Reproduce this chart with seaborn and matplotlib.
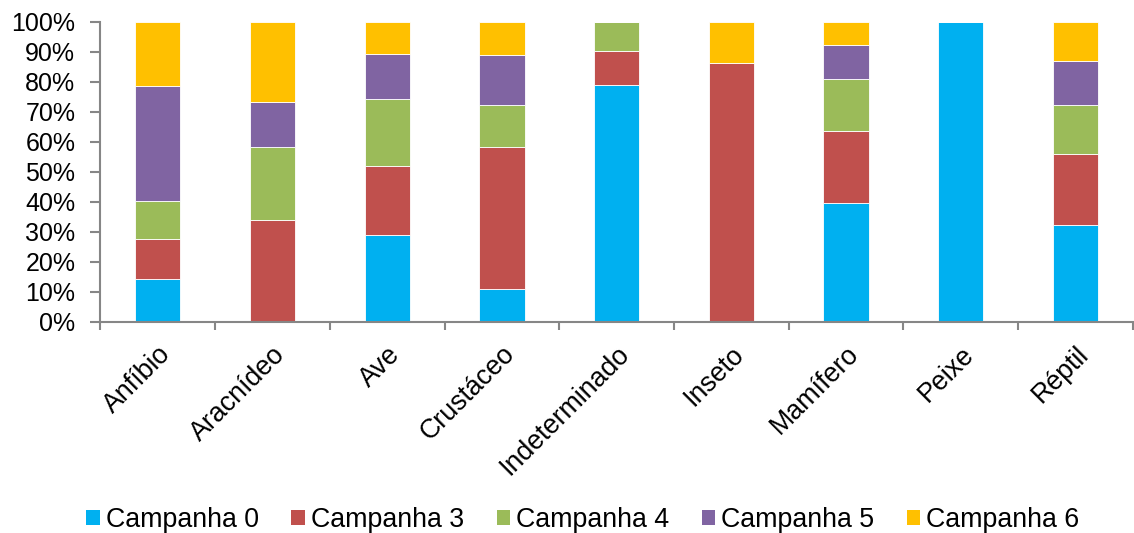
import numpy as np
import pandas as pd
import matplotlib
matplotlib.use("Agg")
import matplotlib.pyplot as plt
from matplotlib.patches import Patch
import seaborn as sns

# Share (%) of each campaign within every group
grupos = ["Anfíbio", "Aracnídeo", "Ave", "Crustáceo", "Indeterminado",
          "Inseto", "Mamífero", "Peixe", "Réptil"]
campanha_0 = [14.2, 0.0, 28.8, 10.8, 78.8, 0.0, 39.7, 100.0, 32.1]
campanha_3 = [13.5, 34.0, 23.2, 47.4, 11.5, 86.3, 24.0, 0.0, 23.9]
campanha_4 = [12.5, 24.3, 22.1, 13.9, 9.7, 0.0, 17.3, 0.0, 16.3]
campanha_5 = [38.4, 14.8, 15.2, 16.8, 0.0, 0.0, 11.3, 0.0, 14.6]
campanha_6 = [21.4, 26.9, 10.7, 11.1, 0.0, 13.7, 7.7, 0.0, 13.1]

series_names = ["Campanha 0", "Campanha 3", "Campanha 4", "Campanha 5", "Campanha 6"]
series_vals = [campanha_0, campanha_3, campanha_4, campanha_5, campanha_6]
colors = ["#00B0F0", "#C0504D", "#9BBB59", "#8064A2", "#FFC000"]

sns.set_style("white")
plt.rcParams["font.family"] = ["Liberation Sans", "DejaVu Sans"]
plt.rcParams["text.color"] = "black"
plt.rcParams["xtick.labelcolor"] = "black"
plt.rcParams["ytick.labelcolor"] = "black"

fig = plt.figure(figsize=(11.34, 5.33), dpi=100)
ax = fig.add_axes([0.0885, 0.3965, 0.9105, 0.5628])

bottom = np.zeros(len(grupos))
for name, vals, col in zip(series_names, series_vals, colors):
    df = pd.DataFrame({"grupo": grupos, "pct": vals})
    sns.barplot(data=df, x="grupo", y="pct", order=grupos, color=col,
                width=0.395, bottom=bottom.copy(), edgecolor="white",
                linewidth=0.6, saturation=1, ax=ax, errorbar=None)
    bottom += np.array(vals)

ax.set_xlim(-0.5, len(grupos) - 0.5)
ax.set_ylim(0, 100)
ax.set_xlabel("")
ax.set_ylabel("")

axis_grey = "#868686"
for side in ["top", "right"]:
    ax.spines[side].set_visible(False)
for side in ["left", "bottom"]:
    ax.spines[side].set_color(axis_grey)
    ax.spines[side].set_linewidth(1.5)

yt = np.arange(0, 101, 10)
ax.set_yticks(yt)
ax.set_yticklabels([f"{v}%" for v in yt], fontsize=18, color="black")
ax.tick_params(axis="y", direction="out", length=7, width=1.5,
               color=axis_grey, pad=11, left=True)

ax.set_xticks(range(len(grupos)))
ax.set_xticklabels(grupos, fontsize=19.3, rotation=45, ha="right",
                   rotation_mode="anchor", color="black")
ax.set_xticks(np.arange(-0.5, len(grupos), 1.0), minor=True)
ax.tick_params(axis="x", which="major", length=0, pad=14)
ax.tick_params(axis="x", which="minor", direction="out", length=6,
               width=1.5, color=axis_grey, bottom=True)

handles = [Patch(facecolor=c, edgecolor="none", label=n)
           for n, c in zip(series_names, colors)]
fig.legend(handles=handles, loc="center", bbox_to_anchor=(0.514, 0.0244),
           ncol=5, frameon=False, fontsize=19.3, handlelength=0.5,
           handleheight=0.5, handletextpad=0.22, columnspacing=1.22,
           borderaxespad=0, borderpad=0, labelcolor="black")

fig.savefig("out.png", dpi=100, facecolor="white")
